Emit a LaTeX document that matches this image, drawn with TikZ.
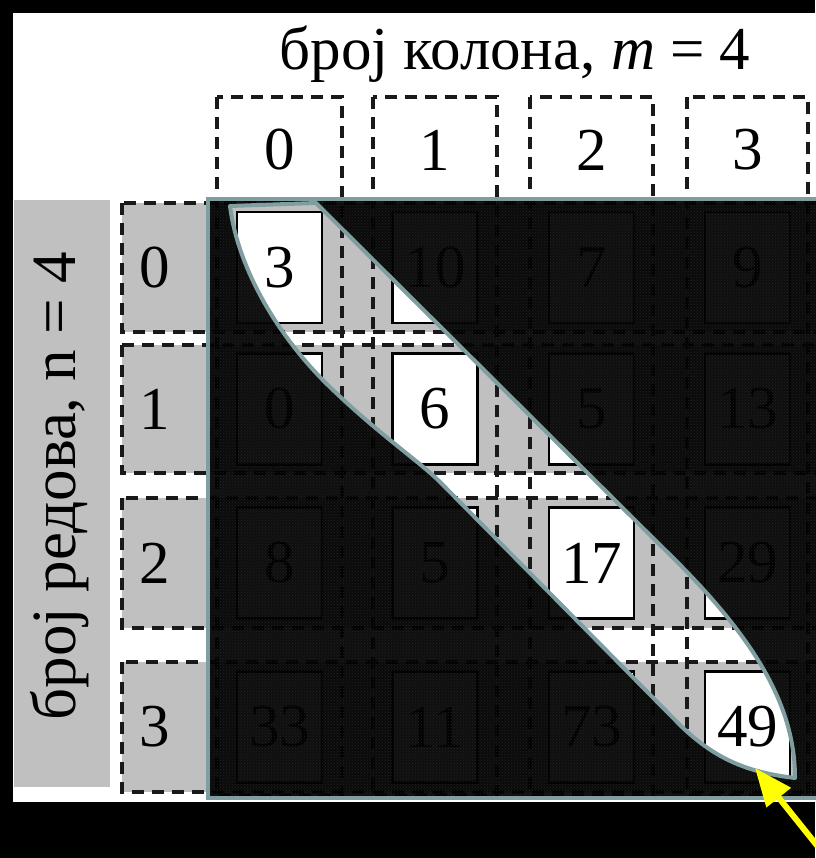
\documentclass[tikz,border=0pt]{standalone}
\usepackage{fontspec}
\setmainfont{Liberation Serif}
\usetikzlibrary{arrows.meta,patterns}
\definecolor{rowgray}{RGB}{192,192,192}
\definecolor{edgeteal}{RGB}{128,158,160}
\definecolor{dashgray}{RGB}{25,25,25}
\definecolor{dotgray}{RGB}{34,34,34}
\definecolor{arrowyellow}{RGB}{255,255,0}
\newcommand\numfont{\fontsize{61}{66}\selectfont}
\newcommand\sidefont{\fontsize{63}{68}\selectfont}
\tikzset{
  dashbox/.style={draw=dashgray,line width=3.4pt,dash pattern=on 12pt off 8pt},
  cellbox/.style={draw=black,line width=2.4pt,fill=white,minimum width=85pt,
    minimum height=111pt,inner sep=0pt,font=\numfont},
  numlabel/.style={inner sep=0pt,font=\numfont},
}

\begin{document}
\begin{tikzpicture}[x=1pt,y=-1pt]
  \useasboundingbox (0,0) rectangle (815,858);
  \fill[black] (0,0) rectangle (815,858);
  \fill[white] (13,13) rectangle (830,802);
  \node[numlabel,anchor=base] (title) at (515,70) {број колона, \textit{m} = 4};
  \fill[rowgray] (14,200) rectangle (110,787);
  \node[inner sep=0pt,font=\sidefont,rotate=90] (side) at (60,486) {број редова, n = 4};
  \foreach \t/\b/\n in {203/332/0,345/473/1,498/628/2,662/792/3} {
    \filldraw[dashbox,fill=rowgray] (122,\t) rectangle (840,\b);
    \node[numlabel] (row\n) at (155,{(\t+\b)/2}) {\n};
  }
  \foreach \l/\r/\n in {217/342/0,373/497/1,530/653/2,687/808/3} {
    \draw[dashbox] (\l,97) rectangle (\r,795);
    \node[numlabel] (col\n) at ({(\l+\r)/2},150) {\n};
  }
  \foreach \y/\a/\b/\c/\d [count=\r from 0] in
    {267.5/3/10/7/9,409/0/6/5/13,563/8/5/17/29,727/33/11/73/49} {
    \node[cellbox] (c\r0) at (279.5,\y) {\a};
    \node[cellbox] (c\r1) at (435,\y) {\b};
    \node[cellbox] (c\r2) at (591.5,\y) {\c};
    \node[cellbox] (c\r3) at (747.5,\y) {\d};
  }
  \coordinate (L1) at (230,206);
  \coordinate (L2) at (316,203);
  \coordinate (L3) at (660,545);
  \coordinate (L4) at (795,778);
  \coordinate (L5) at (682,727);
  \coordinate (L6) at (440,482);
  \coordinate (L7) at (333,390);
  \fill[black,fill opacity=0.94,even odd rule] (208,199) rectangle (840,798)
    (L1) -- (L2) -- (L3) .. controls (748,630) and (795,700) .. (L4)
    .. controls (745,772) and (715,758) .. (L5) -- (L6)
    .. controls (420,462) and (380,435) .. (L7)
    .. controls (280,340) and (238,270) .. (L1) -- cycle;
  \fill[pattern=crosshatch dots,pattern color=dotgray,even odd rule] (208,199) rectangle (840,798)
    (L1) -- (L2) -- (L3) .. controls (748,630) and (795,700) .. (L4)
    .. controls (745,772) and (715,758) .. (L5) -- (L6)
    .. controls (420,462) and (380,435) .. (L7)
    .. controls (280,340) and (238,270) .. (L1) -- cycle;
  \draw[edgeteal,line width=4pt] (208,199) rectangle (840,798);
  \draw[edgeteal,line width=4pt,line join=round]
    (L1) -- (L2) -- (L3) .. controls (748,630) and (795,700) .. (L4)
    .. controls (745,772) and (715,758) .. (L5) -- (L6)
    .. controls (420,462) and (380,435) .. (L7)
    .. controls (280,340) and (238,270) .. (L1) -- cycle;
  \coordinate (tail) at (835,868);
  \coordinate (tip) at (755,768);
  \draw[arrowyellow,line width=6pt,-{Triangle[length=38pt,width=30pt]}] (tail) -- (tip);
\end{tikzpicture}
\end{document}
